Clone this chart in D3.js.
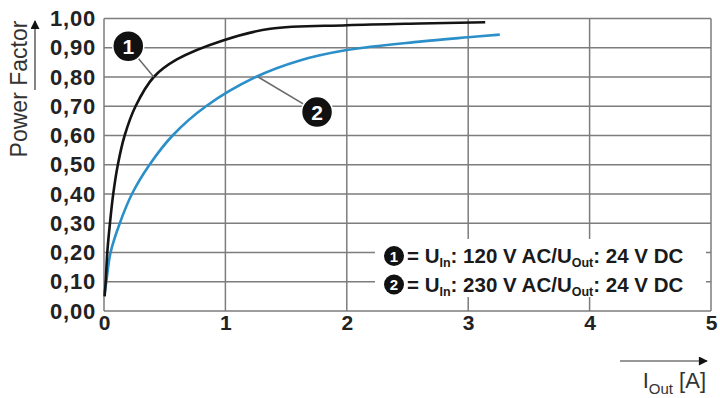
<!DOCTYPE html>
<html>
<head>
<meta charset="utf-8">
<script src="https://cdn.jsdelivr.net/npm/d3@7"></script>
<style>
  html, body { margin: 0; padding: 0; background: #fff; }
  svg { display: block; font-family: "Liberation Sans", Arial, Helvetica, sans-serif; }
</style>
</head>
<body>
<div id="chart"></div>
<script>
// tick values
const xTicks = [0, 1, 2, 3, 4, 5];
const yTicks = [0, 0.1, 0.2, 0.3, 0.4, 0.5, 0.6, 0.7, 0.8, 0.9, 1.0];

// curve 1: U_In 120 V AC
const current120 = [0.005, 0.014, 0.027, 0.049, 0.076, 0.114, 0.17, 0.26, 0.41, 0.60, 0.98, 1.37, 2.0, 2.6, 3.14];
const pf120      = [0.05, 0.10, 0.20, 0.30, 0.40, 0.50, 0.60, 0.70, 0.80, 0.86, 0.925, 0.965, 0.977, 0.983, 0.987];

// curve 2: U_In 230 V AC
const current230 = [0.005, 0.019, 0.054, 0.13, 0.23, 0.375, 0.565, 0.84, 1.25, 1.6, 2.0, 2.6, 3.0, 3.26];
const pf230      = [0.06, 0.10, 0.20, 0.30, 0.40, 0.50, 0.60, 0.70, 0.80, 0.855, 0.892, 0.921, 0.936, 0.945];

// callout markers: label position and the point on the curve they point at
const callouts = [
  { label: '1', at: [0.20, 0.905], to: [0.41, 0.80] },
  { label: '2', at: [1.755, 0.68], to: [1.27, 0.80] }
];

const legendRows = [
  { label: '1', vin: '120 V AC', vout: '24 V DC' },
  { label: '2', vin: '230 V AC', vout: '24 V DC' }
];

const width = 720, height = 398;
const margin = { top: 18.5, right: 9, bottom: 87, left: 104 };

const svg = d3.select('#chart').append('svg')
  .attr('width', width)
  .attr('height', height);

const x = d3.scaleLinear().domain([0, 5]).range([margin.left, width - margin.right]);
const y = d3.scaleLinear().domain([0, 1]).range([height - margin.bottom, margin.top]);

const gridColor = '#7d7d7d';

// grid
svg.append('g')
  .attr('class', 'grid y')
  .selectAll('line')
  .data(yTicks)
  .join('line')
    .attr('x1', x(0)).attr('x2', x(5))
    .attr('y1', d => y(d)).attr('y2', d => y(d))
    .attr('stroke', gridColor)
    .attr('stroke-width', 1.5);

svg.append('g')
  .attr('class', 'grid x')
  .selectAll('line')
  .data(xTicks)
  .join('line')
    .attr('x1', d => x(d)).attr('x2', d => x(d))
    .attr('y1', y(0)).attr('y2', y(1))
    .attr('stroke', gridColor)
    .attr('stroke-width', 1.5);

// legend box hides the grid behind it
svg.append('rect')
  .attr('x', 375).attr('y', 239)
  .attr('width', 331).attr('height', 58)
  .attr('fill', '#fff');

// axes (labels only)
const fmt = d => d3.format('.2f')(d).replace('.', ',');

const yAxis = svg.append('g')
  .attr('class', 'y axis')
  .attr('transform', `translate(${margin.left - 8},0)`)
  .call(d3.axisLeft(y).tickValues(yTicks).tickFormat(fmt).tickSize(0).tickPadding(0));
yAxis.select('.domain').remove();
yAxis.selectAll('text')
  .attr('font-size', 22)
  .attr('font-weight', 'bold')
  .attr('letter-spacing', 0.8)
  .attr('fill', '#222')
  .attr('font-family', '"Liberation Sans", Arial, sans-serif');

const xAxis = svg.append('g')
  .attr('class', 'x axis')
  .attr('transform', `translate(0,${y(0)})`)
  .call(d3.axisBottom(x).tickValues(xTicks).tickFormat(d3.format('d')).tickSize(0).tickPadding(4));
xAxis.select('.domain').remove();
xAxis.selectAll('text')
  .attr('font-size', 21)
  .attr('font-weight', 'bold')
  .attr('fill', '#222')
  .attr('font-family', '"Liberation Sans", Arial, sans-serif');

// curves
const line = d3.line()
  .x(d => x(d[0]))
  .y(d => y(d[1]))
  .curve(d3.curveCatmullRom.alpha(0.5));

const plot = svg.append('g').attr('class', 'plot-area');

plot.append('path')
  .datum(d3.zip(current230, pf230))
  .attr('d', line)
  .attr('fill', 'none')
  .attr('stroke', '#2b8fc9')
  .attr('stroke-width', 2.6);

plot.append('path')
  .datum(d3.zip(current120, pf120))
  .attr('d', line)
  .attr('fill', 'none')
  .attr('stroke', '#141414')
  .attr('stroke-width', 2.6);

// callouts
const co = svg.append('g').attr('class', 'callouts');
callouts.forEach(c => {
  co.append('line')
    .attr('x1', x(c.at[0])).attr('y1', y(c.at[1]))
    .attr('x2', x(c.to[0])).attr('y2', y(c.to[1]))
    .attr('stroke', '#6a6a6a')
    .attr('stroke-width', 1.5);
  co.append('circle')
    .attr('cx', x(c.at[0])).attr('cy', y(c.at[1]))
    .attr('r', 15.5)
    .attr('fill', '#111')
    .attr('stroke', '#fff')
    .attr('stroke-width', 1.5);
  co.append('text')
    .attr('x', x(c.at[0])).attr('y', y(c.at[1]) + 7.5)
    .attr('text-anchor', 'middle')
    .attr('font-size', 21)
    .attr('font-weight', 'bold')
    .attr('fill', '#fff')
    .text(c.label);
});

// legend
const legend = svg.append('g').attr('class', 'legend');
legendRows.forEach((r, i) => {
  const cy = 256 + i * 28.5;
  legend.append('circle')
    .attr('cx', 394).attr('cy', cy)
    .attr('r', 10)
    .attr('fill', '#111');
  legend.append('text')
    .attr('x', 394).attr('y', cy + 5.5)
    .attr('text-anchor', 'middle')
    .attr('font-size', 15)
    .attr('font-weight', 'bold')
    .attr('fill', '#fff')
    .text(r.label);
  const t = legend.append('text')
    .attr('x', 407).attr('y', cy + 7)
    .attr('font-size', 20.5)
    .attr('font-weight', 'bold')
    .attr('fill', '#1a1a1a');
  t.append('tspan').text('= U');
  t.append('tspan').attr('font-size', 12.5).attr('dy', 4).text('In');
  t.append('tspan').attr('dy', -4).text(`: ${r.vin}/U`);
  t.append('tspan').attr('font-size', 12.5).attr('dy', 4).text('Out');
  t.append('tspan').attr('dy', -4).text(`: ${r.vout}`);
});

// axis titles with arrows
svg.append('defs').append('marker')
  .attr('id', 'arrow')
  .attr('viewBox', '0 0 10 10')
  .attr('refX', 9).attr('refY', 5)
  .attr('markerWidth', 14).attr('markerHeight', 9)
  .attr('markerUnits', 'userSpaceOnUse')
  .attr('orient', 'auto')
  .append('path')
    .attr('d', 'M0,0 L10,5 L0,10 Z')
    .attr('fill', '#111');

svg.append('text')
  .attr('transform', 'translate(27,89) rotate(-90)')
  .attr('text-anchor', 'middle')
  .attr('font-size', 23)
  .attr('fill', '#333')
  .text('Power Factor');

svg.append('line')
  .attr('x1', 35).attr('y1', 90)
  .attr('x2', 35).attr('y2', 21)
  .attr('stroke', '#333')
  .attr('stroke-width', 1.2)
  .attr('marker-end', 'url(#arrow)');

svg.append('line')
  .attr('x1', 620).attr('y1', 361)
  .attr('x2', 707).attr('y2', 361)
  .attr('stroke', '#333')
  .attr('stroke-width', 1.2)
  .attr('marker-end', 'url(#arrow)');

const xt = svg.append('text')
  .attr('x', 706).attr('y', 388)
  .attr('text-anchor', 'end')
  .attr('font-size', 22)
  .attr('fill', '#333');
xt.append('tspan').text('I');
xt.append('tspan').attr('font-size', 15).attr('dy', 6).text('Out');
xt.append('tspan').attr('dy', -6).text(' [A]');
</script>
</body>
</html>
